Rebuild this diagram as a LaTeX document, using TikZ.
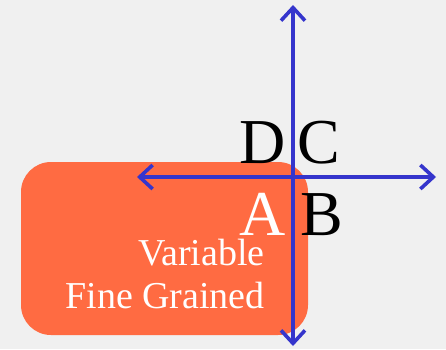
\documentclass[tikz,border=0pt]{standalone}
\usepackage{xcolor}
\usepackage{fontspec}
\setmainfont{Liberation Serif}
\usepackage{tikz}
\usetikzlibrary{arrows.meta,positioning}
\definecolor{figbg}{HTML}{F0F0F0}
\definecolor{figorange}{HTML}{FF6B42}
\definecolor{figblue}{HTML}{3535CC}

\begin{document}
\begin{tikzpicture}[x=1pt,y=-1pt,
  axis/.style={figblue, line width=3.6pt, {Straight Barb[length=13pt,width=24pt,line width=3.6pt]}-{Straight Barb[length=13pt,width=24pt,line width=3.6pt]}},
  bigletter/.style={inner sep=0pt, font=\fontsize{64}{64}\selectfont},
  boxtext/.style={inner sep=0pt, text=white, font=\fontsize{38}{38}\selectfont, anchor=base east}]
\useasboundingbox[fill=figbg] (0,0) rectangle (446,349);

% the grain box
\node[fill=figorange, draw=none, rounded corners=30pt, minimum width=287pt, minimum height=173pt, inner sep=0pt] (grain) at (164.5,248.5) {};
\node[boxtext] (variable) at (265,265) {Variable};
\node[boxtext] (fine) at (265,308) {Fine Grained};

% the cross
\coordinate (top) at (293,5);
\coordinate (bottom) at (293,346);
\coordinate (left) at (137,177);
\coordinate (right) at (436,177);
\draw[axis] (bottom) -- (top);
\draw[axis] (left) -- (right);

\node[bigletter, anchor=base east] (D) at (286,163) {D};
\node[bigletter, anchor=base west] (C) at (297,163) {C};
\node[bigletter, anchor=base east, text=white] (A) at (286,235) {A};
\node[bigletter, anchor=base west] (B) at (300,235) {B};
\end{tikzpicture}
\end{document}
